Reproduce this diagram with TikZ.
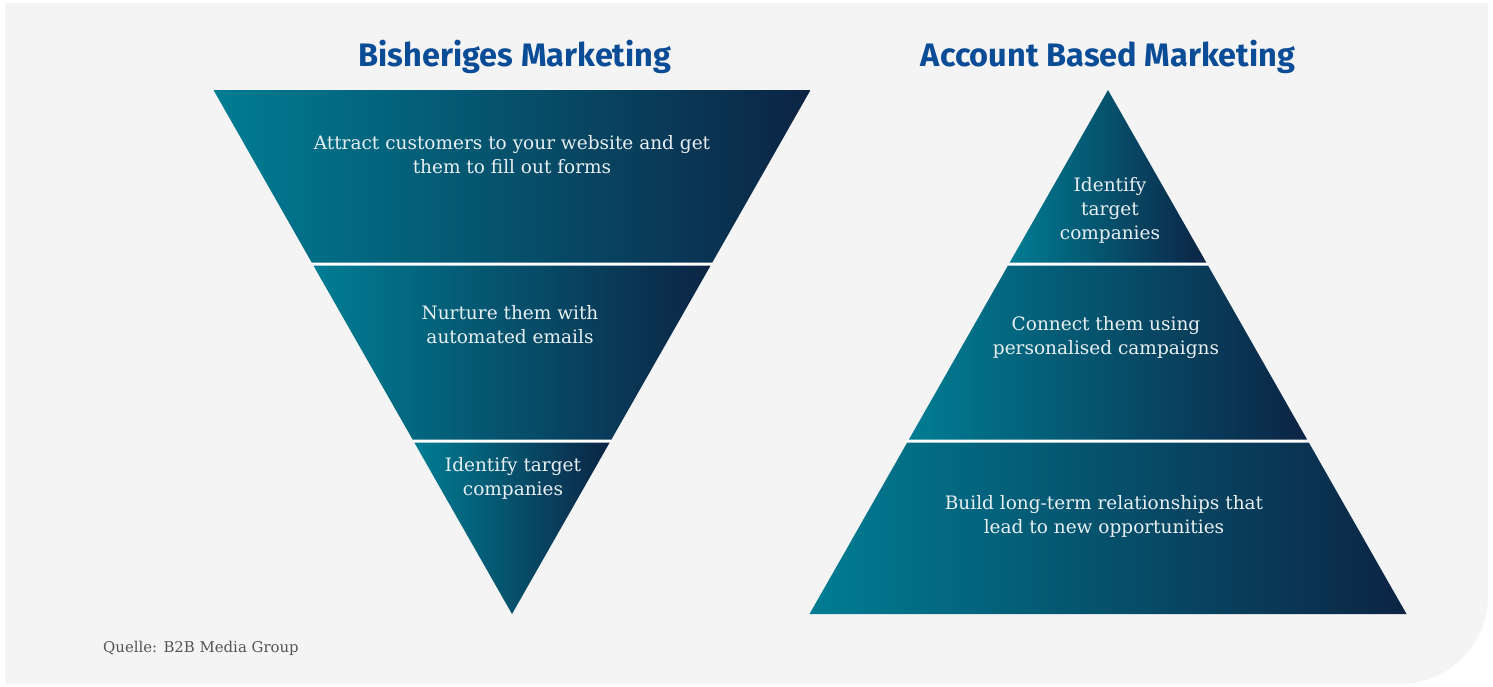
\documentclass[tikz,border=0pt]{standalone}
\usepackage{fontspec}
\setmainfont{DejaVu Serif}
\newfontfamily\headfont{Fira Sans}
\definecolor{panelgray}{HTML}{F4F4F4}
\definecolor{bandteal}{HTML}{007D93}
\definecolor{bandnavy}{HTML}{0C2444}
\definecolor{headblue}{HTML}{0B4C97}
\definecolor{bandtext}{HTML}{E8EFF2}
\definecolor{notegray}{HTML}{555555}
\begin{document}
\begin{tikzpicture}[x=1pt,y=-1pt,
  band/.style={left color=bandteal,right color=bandnavy,draw=none},
  bandlabel/.style={text=bandtext,align=center,inner sep=0pt,
    font=\fontsize{18.5}{24}\selectfont},
  heading/.style={text=headblue,inner sep=0pt,font=\headfont\bfseries\fontsize{32.5}{36}\selectfont},
  note/.style={text=notegray,inner sep=0pt,anchor=west,font=\fontsize{14.9}{17}\selectfont}]
\useasboundingbox (0,0) rectangle (1493,686);
% panel with one rounded corner
\fill[white] (0,0) rectangle (1493,686);
\fill[panelgray] (5,3) -- (1488,3) -- (1488,596) arc[start angle=0,end angle=90,radius=88] -- (5,684) -- cycle;

% --- funnel (inverted triangle) ---
\fill[white] (213.5,90) -- (810.5,90) -- (512,614) -- cycle;
\shade[band] (213.5,90) -- (810.5,90) -- (712.3,262.5) -- (311.7,262.5) -- cycle;
\shade[band] (313.4,265.5) -- (710.6,265.5) -- (611.4,439.5) -- (412.6,439.5) -- cycle;
\shade[band] (414.3,442.5) -- (609.7,442.5) -- (512,614) -- cycle;

% --- pyramid ---
\fill[white] (1108,90) -- (1406.5,614) -- (809.5,614) -- cycle;
\shade[band] (1108,90) -- (1206.3,262.5) -- (1009.7,262.5) -- cycle;
\shade[band] (1008,265.5) -- (1208,265.5) -- (1307.1,439.5) -- (908.9,439.5) -- cycle;
\shade[band] (907.2,442.5) -- (1308.8,442.5) -- (1406.5,614) -- (809.5,614) -- cycle;

% headings
\node[heading] (headL) at (515,57) {Bisheriges Marketing};
\node[heading] (headR) at (1108,57) {Account Based Marketing};

% band labels
\node[bandlabel] (l1) at (512,155) {Attract customers to your website and get\\them to fill out forms};
\node[bandlabel] (l2) at (510,325) {Nurture them with\\automated emails};
\node[bandlabel] (l3) at (513,478) {Identify target\\companies};
\node[bandlabel] (r1) at (1110,210) {Identify\\target\\companies};
\node[bandlabel] (r2) at (1106,338) {Connect them using\\personalised campaigns};
\node[bandlabel] (r3) at (1104,516) {Build long-term relationships that\\lead to new opportunities};

% source
\node[note] (src) at (103,648) {Quelle: B2B Media Group};
\end{tikzpicture}
\end{document}
